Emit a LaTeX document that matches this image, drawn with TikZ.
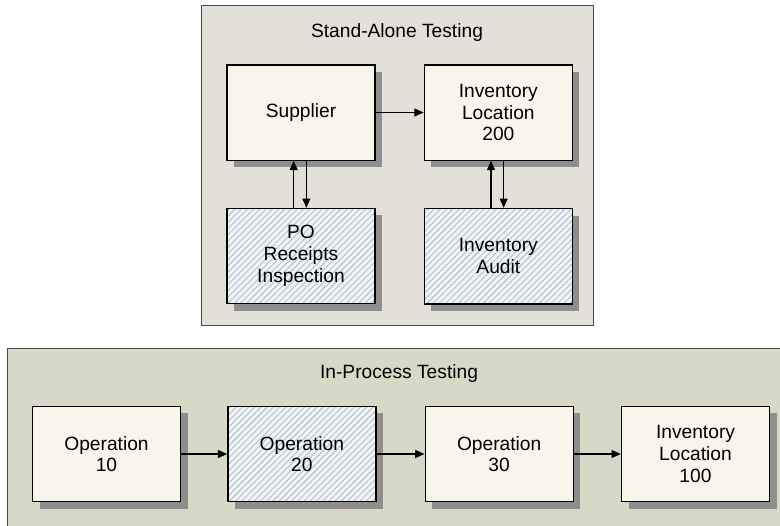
\documentclass[tikz,border=0pt]{standalone}
\usepackage{fontspec}
\setmainfont{Liberation Sans}
\usepackage{tikz}
\usetikzlibrary{positioning, arrows.meta, shadows, patterns.meta}
\definecolor{standgray}{HTML}{E3DFD9}
\definecolor{procgreen}{HTML}{D7D9C6}
\definecolor{boxcream}{HTML}{F8F5EB}
\definecolor{hatchbg}{HTML}{F1F4F7}
\definecolor{hatchline}{HTML}{B3BFCB}
\definecolor{shadowgray}{HTML}{8E8E8E}
\definecolor{panelline}{HTML}{4A4A4A}

\begin{document}
\begin{tikzpicture}[
    x=0.75pt, y=-0.75pt,
    node distance=35.25pt and 36pt,
    >={Triangle[length=7pt, width=6pt]},
    every node/.style={font=\fontsize{14.4}{16.3}\selectfont},
    panel/.style={
        draw=panelline, line width=0.75pt, inner sep=0pt
    },
    box/.style={
        draw=black, line width=1pt, inner sep=0pt, align=center,
        minimum width=111pt, minimum height=71.5pt,
        drop shadow={shadow xshift=5.25pt, shadow yshift=-5.25pt,
                     fill=shadowgray, opacity=1}
    },
    plainbox/.style={box, fill=boxcream},
    hatchbox/.style={box, preaction={fill=hatchbg},
        pattern={Lines[angle=45, distance=3.3pt, line width=0.7pt]},
        pattern color=hatchline},
    title node/.style={inner sep=0pt},
    arr/.style={->, line width=0.8pt},
]

\clip (0,0) rectangle (780,525);
\useasboundingbox (0,0) rectangle (780,525);

% === Stand-Alone Testing ===
\node[panel, fill=standgray, minimum width=294pt, minimum height=240pt]
    (stand) at (397,165) {};
\node[title node] (standtitle) at ([yshift=-21pt]stand.north) {Stand-Alone Testing};

\node[plainbox] (supplier) at (301,112.5) {Supplier};
\node[plainbox, right=of supplier] (inv200) {Inventory\\Location\\200};
\node[hatchbox, below=of supplier] (receipts) {PO\\Receipts\\Inspection};
\node[hatchbox, below=of inv200] (audit) {Inventory\\Audit};

% === In-Process Testing ===
\node[panel, fill=procgreen, minimum width=588pt, minimum height=141pt]
    (inproc) at (399,442) {};
\node[title node] (inproctitle) at ([yshift=-19.5pt]inproc.north) {In-Process Testing};

\node[plainbox] (op10) at (106.5,454) {Operation\\10};
\node[hatchbox, right=34.5pt of op10] (op20) {Operation\\20};
\node[plainbox, right=36pt of op20] (op30) {Operation\\30};
\node[plainbox, right=35.25pt of op30] (inv100) {Inventory\\Location\\100};

% ===== ARROWS =====
\draw[arr] (supplier.east) -- (inv200.west);

\draw[arr] ([xshift=-5.5pt]receipts.north) -- ([xshift=-5.5pt]supplier.south);
\draw[arr] ([xshift=4pt]supplier.south) -- ([xshift=4pt]receipts.north);

\draw[arr] ([xshift=-5.5pt]audit.north) -- ([xshift=-5.5pt]inv200.south);
\draw[arr] ([xshift=4pt]inv200.south) -- ([xshift=4pt]audit.north);

\draw[arr] (op10.east) -- (op20.west);
\draw[arr] (op20.east) -- (op30.west);
\draw[arr] (op30.east) -- (inv100.west);

\end{tikzpicture}
\end{document}
